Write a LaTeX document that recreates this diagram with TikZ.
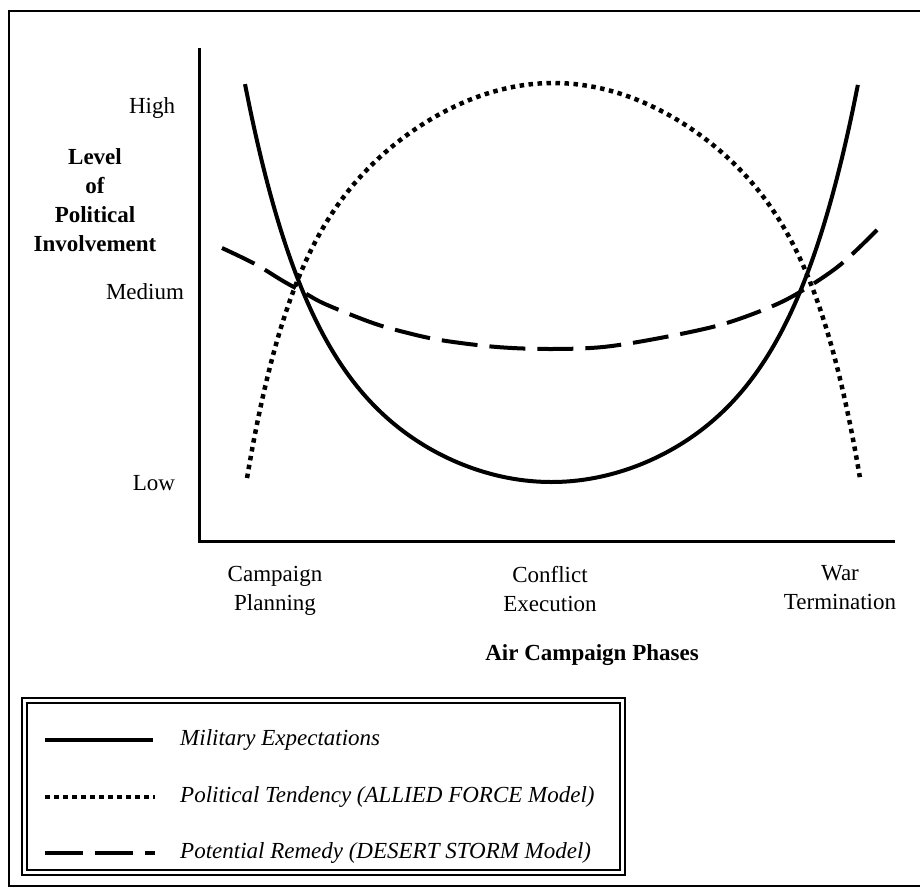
\documentclass[tikz,border=0pt]{standalone}
\usepackage{fontspec}
\setmainfont{Liberation Serif}
\begin{document}
\begin{tikzpicture}[x=1pt,y=-1pt,
  frameline/.style={line width=2pt},
  axisline/.style={line width=3pt},
  solidcurve/.style={line width=4pt},
  dotcurve/.style={line width=4.5pt, dash pattern=on 4.5pt off 4.5pt},
  dashcurve/.style={line width=4pt, dash pattern=on 36pt off 12pt},
  lbl/.style={inner sep=0pt, font=\fontsize{23}{29}\selectfont},
  boldlbl/.style={inner sep=0pt, align=center, font=\fontsize{23}{29}\selectfont\bfseries},
  ticklbl/.style={inner sep=0pt, align=center, font=\fontsize{23}{29}\selectfont},
  legtext/.style={inner sep=0pt, anchor=west, font=\fontsize{23}{29}\selectfont\itshape},
  legouter/.style={line width=2.5pt},
  leginner/.style={line width=1.2pt}]
\useasboundingbox (0,0) rectangle (920,888);
\fill[white] (0,0) rectangle (920,888);

% outer frame (right side cut off)
\coordinate (ftr) at (920,11);
\coordinate (ftl) at (9,11);
\coordinate (fbl) at (9,886);
\coordinate (fbr) at (920,886);
\draw[frameline] (ftr) -- (ftl) -- (fbl) -- (fbr);

% axes
\coordinate (ytop) at (199,48);
\coordinate (origin) at (199,541);
\coordinate (xend) at (895,541);
\draw[axisline] (ytop) -- (origin) -- (xend);

% y labels
\node[lbl] (high) at (152,108) {High};
\node[lbl] (medium) at (145,292) {Medium};
\node[lbl] (low) at (154,483) {Low};
\node[boldlbl] (ytitle) at (95,200) {Level\\of\\Political\\Involvement};

% x labels
\node[ticklbl] (cp) at (275,591) {Campaign\\Planning};
\node[ticklbl] (ce) at (550,589) {Conflict\\Execution};
\node[ticklbl] (wt) at (840,588) {War\\Termination};
\node[boldlbl] (xtitle) at (592,655) {Air Campaign Phases};

% curves
\draw[solidcurve] plot[smooth, samples=121, domain=-3.065:3.065]
  ({551.5+100*\x},{482-22*\x*\x-0.2306*\x*\x*\x*\x*\x*\x});
\draw[dotcurve] plot[smooth, samples=121, domain=-3.065:3.065]
  ({553.5+100*\x},{83+24*\x*\x+0.02177*\x*\x*\x*\x*\x*\x*\x*\x});
\draw[dashcurve] plot[smooth, tension=0.55] coordinates {(222,248) (255,264) (283,281) (303,292) (325,304) (370,322) (400,331) (440,340) (497,347) (550,349) (603,347) (660,338) (720,325) (768,308) (800,292) (840,265) (877,230)};

% legend
\draw[legouter] (22,698) rectangle (625,875);
\draw[leginner] (27,703) rectangle (620,870);
\coordinate (l1a) at (45,740); \coordinate (l1b) at (153,740);
\coordinate (l2a) at (45,797); \coordinate (l2b) at (155,797);
\coordinate (l3a) at (45,853); \coordinate (l3b) at (155,853);
\draw[solidcurve] (l1a) -- (l1b);
\draw[dotcurve] (l2a) -- (l2b);
\draw[dashcurve, dash pattern=on 38pt off 12pt] (l3a) -- (l3b);
\node[legtext] (t1) at (180,740) {Military Expectations};
\node[legtext] (t2) at (180,797) {Political Tendency (ALLIED FORCE Model)};
\node[legtext] (t3) at (180,853) {Potential Remedy (DESERT STORM Model)};
\end{tikzpicture}
\end{document}
